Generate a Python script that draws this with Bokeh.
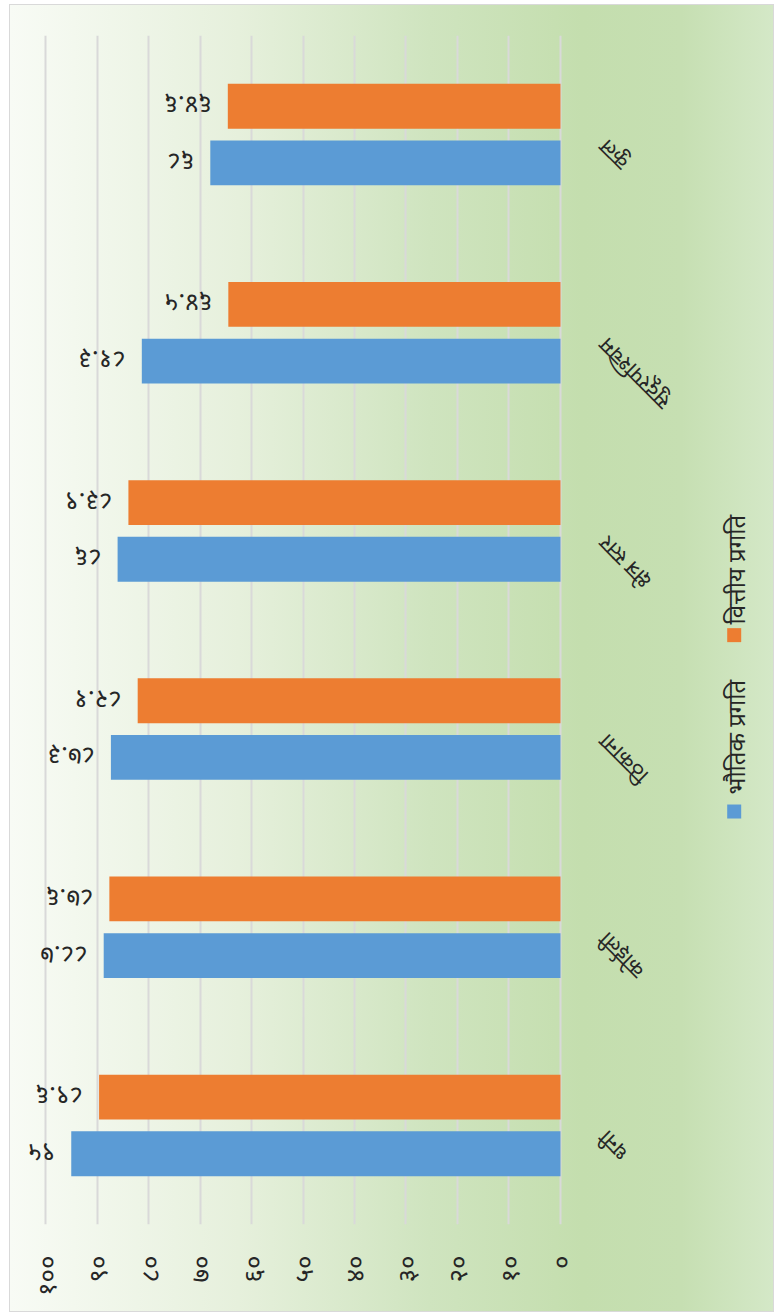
import math
from bokeh.plotting import figure
from bokeh.models import ColumnDataSource, Range1d, FactorRange, FixedTicker
from bokeh.transform import dodge
from bokeh.core.properties import value
from bokeh.embed import file_html
from bokeh.resources import INLINE

# ---- data ----
categories = ["धनी", "कोईली", "ठिकाना", "क्षेत्र स्तर", "सुदूरपश्चिम", "कुल"]
physical = [95, 88.7, 87.3, 86, 81.3, 68]
financial = [89.6, 87.6, 82.1, 83.9, 64.5, 64.6]
series_names = ["भौतिक प्रगति", "वित्तीय प्रगति"]
series_colors = ["#5b9bd5", "#ed7d31"]
tick_values = [0, 10, 20, 30, 40, 50, 60, 70, 80, 90, 100]
tick_labels = ["०", "१०", "२०", "३०", "४०", "५०", "६०", "७०", "८०", "९०", "१००"]

DEV = str.maketrans("0123456789", "०१२३४५६७८९")


def dev(v):
    return f"{v:g}".translate(DEV)


FONT = "Noto Sans"
TXT = "#262626"

source = ColumnDataSource(dict(
    cat=categories,
    phys=physical,
    fin=financial,
    phys_txt=[dev(v) for v in physical],
    fin_txt=[dev(v) for v in financial],
))

BG = ("linear-gradient(to right, #f8fbf5 0%, #e6f0dc 30%, #cfe4bf 55%, #c4deae 75%, "
      "#c6dfb2 88%, #d4e8c7 100%) 10px 5px / 763px 1306px no-repeat, "
      "linear-gradient(#d9d9d9, #d9d9d9) 9px 4px / 765px 1308px no-repeat, #ffffff")

p = figure(
    width=775, height=1316,
    output_backend="svg", toolbar_location=None,
    x_range=Range1d(105.05, -41.75),
    y_range=FactorRange(*categories),
    min_border_left=19, min_border_right=0,
    min_border_top=35, min_border_bottom=92,
    background_fill_color=None, border_fill_color=None,
    outline_line_color=None,
    styles={"background": BG},
)

OFF = 0.143
BAR_H = 0.226

p.hbar(y=dodge("cat", -OFF, range=p.y_range), left=0, right="phys", height=BAR_H,
       source=source, fill_color=series_colors[0], line_color=None)
p.hbar(y=dodge("cat", OFF, range=p.y_range), left=0, right="fin", height=BAR_H,
       source=source, fill_color=series_colors[1], line_color=None)

# data labels (upside down, as in the reference)
p.text(x=dodge("phys", 3.1), y=dodge("cat", -OFF, range=p.y_range), text="phys_txt",
       source=source, angle=math.pi, text_align="left", text_baseline="middle",
       text_font=value(FONT), text_font_size="26px", text_color=TXT)
p.text(x=dodge("fin", 3.1), y=dodge("cat", OFF, range=p.y_range), text="fin_txt",
       source=source, angle=math.pi, text_align="left", text_baseline="middle",
       text_font=value(FONT), text_font_size="26px", text_color=TXT)

# value axis (bottom)
xt = FixedTicker(ticks=tick_values)
p.xaxis.ticker = xt
p.xaxis.major_label_overrides = {t: s for t, s in zip(tick_values, tick_labels)}
p.xaxis.major_label_orientation = math.pi / 2
p.xaxis.axis_line_color = None
p.xaxis.major_tick_line_color = None
p.xaxis.minor_tick_line_color = None
p.xaxis.major_label_standoff = 25
p.xaxis.major_label_text_font = FONT
p.xaxis.major_label_text_font_size = "26px"
p.xaxis.major_label_text_color = TXT

# vertical grid; the line at 0 doubles as the category axis line
p.xgrid.ticker = xt
p.xgrid.grid_line_color = "#d9d9d9"
p.xgrid.grid_line_width = 2
p.ygrid.grid_line_color = None
p.yaxis.visible = False

# category labels (rotated, next to the 0 line)
p.text(x=-8.0, y=dodge("cat", -0.05, range=p.y_range), text="cat", source=source,
       angle=3 * math.pi / 4, text_align="right", text_baseline="middle",
       text_font=value(FONT), text_font_size="22px", text_color=TXT)

# legend (rotated, reads bottom to top)
leg = ColumnDataSource(dict(
    name=series_names, color=series_colors,
    sq_x=[-33.73, -33.73], sq_y=[2.084, 2.974],
    tx_x=[-33.98, -33.98], tx_y=[2.170, 3.028],
))
p.scatter(x="sq_x", y="sq_y", marker="square", size=14, fill_color="color",
          line_color=None, source=leg)
p.text(x="tx_x", y="tx_y", text="name", angle=math.pi / 2, text_align="left",
       text_baseline="middle", text_font=value(FONT), text_font_size="24px",
       text_color=TXT, source=leg)

open("out.html", "w").write(file_html(p, INLINE))
